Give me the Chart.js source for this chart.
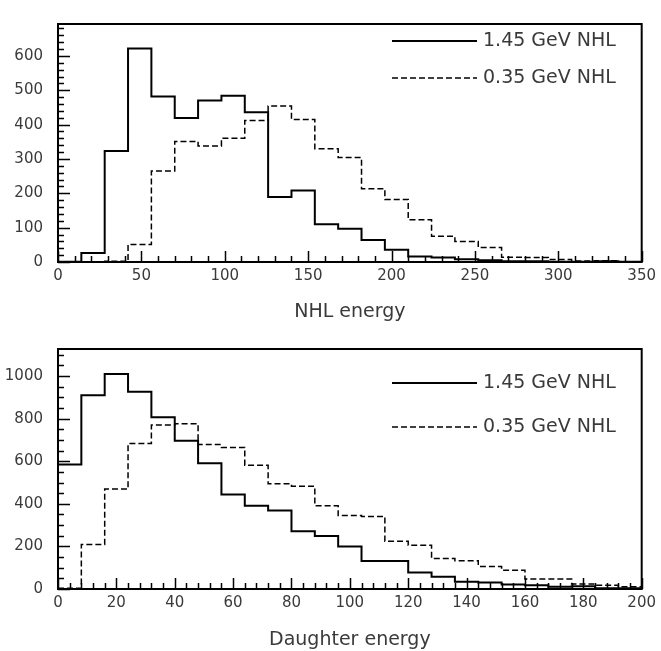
<!DOCTYPE html>
<html>
<head>
<meta charset="utf-8">
<script src="https://cdn.jsdelivr.net/npm/chart.js@4.4.1/dist/chart.umd.min.js"></script>
<style>
  html, body { margin: 0; padding: 0; background: #fff; }
  .box { position: absolute; left: 0; width: 661px; }
  #topBox { top: 0; height: 325px; }
  #botBox { top: 325px; height: 326px; }
</style>
</head>
<body>
<div class="box" id="topBox"><canvas id="nhlChart"></canvas></div>
<div class="box" id="botBox"><canvas id="daughterChart"></canvas></div>
<script>
// bin edges and contents
const nhlEdges = [0, 14, 28, 42, 56, 70, 84, 98, 112, 126, 140, 154, 168, 182,
                  196, 210, 224, 238, 252, 266, 280, 294, 308, 322, 336, 350];
const nhlHeavy = [1, 26, 323, 622, 482, 419, 470, 484, 436, 189, 208, 110, 97,
                  64, 36, 16, 13, 8, 5, 2, 2, 1, 1, 2, 1];
const nhlLight = [0, 0, 2, 51, 265, 351, 338, 360, 412, 454, 415, 330, 304,
                  213, 182, 123, 75, 60, 42, 14, 13, 7, 3, 4, 1];
const nhlXTicks = [0, 50, 100, 150, 200, 250, 300, 350];
const nhlYTicks = [0, 100, 200, 300, 400, 500, 600];

const dauEdges = [0, 8, 16, 24, 32, 40, 48, 56, 64, 72, 80, 88, 96, 104,
                  112, 120, 128, 136, 144, 152, 160, 168, 176, 184, 192, 200];
const dauHeavy = [585, 910, 1010, 926, 807, 696, 590, 444, 391, 369, 271, 249, 200,
                  131, 131, 78, 58, 34, 30, 21, 18, 10, 13, 4, 3];
const dauLight = [4, 209, 469, 683, 770, 776, 678, 665, 581, 494, 482, 391, 345,
                  341, 224, 206, 143, 133, 106, 88, 47, 47, 24, 18, 10];
const dauXTicks = [0, 20, 40, 60, 80, 100, 120, 140, 160, 180, 200];
const dauYTicks = [0, 200, 400, 600, 800, 1000];

const seriesNames = ['1.45 GeV NHL', '0.35 GeV NHL'];
const textColor = '#3a3a3a';
const fontFamily = "'DejaVu Sans', 'Liberation Sans', sans-serif";

// histogram -> step points (left edge of each bin, plus the closing edge)
function steps(edges, vals) {
  const pts = vals.map((v, i) => ({x: edges[i], y: v}));
  pts.push({x: edges[edges.length - 1], y: vals[vals.length - 1]});
  return pts;
}

// PAW style frame, inward ticks and the little legend
const pawFrame = {
  id: 'pawFrame',
  afterDatasetsDraw(chart, args, opts) {
    const {ctx, chartArea: a} = chart;
    const xs = chart.scales.x, ys = chart.scales.y;
    ctx.save();
    ctx.strokeStyle = '#000';
    ctx.lineWidth = 1.5;
    ctx.beginPath();
    for (let v = xs.min; v <= xs.max + 1e-6; v += opts.xMinor) {
      const px = Math.round(xs.getPixelForValue(v)) + 0.5;
      const major = opts.xTicks.some(t => Math.abs(t - v) < 1e-6);
      ctx.moveTo(px, a.bottom);
      ctx.lineTo(px, a.bottom - (major ? 11 : 6));
    }
    for (let v = ys.min; v <= ys.max + 1e-6; v += opts.yMinor) {
      const py = Math.round(ys.getPixelForValue(v)) + 0.5;
      const major = opts.yTicks.some(t => Math.abs(t - v) < 1e-6);
      ctx.moveTo(a.left, py);
      ctx.lineTo(a.left + (major ? 12 : 6), py);
    }
    ctx.stroke();
    ctx.lineWidth = 2;
    ctx.strokeRect(a.left, a.top, a.right - a.left, a.bottom - a.top);

    ctx.font = '19px ' + fontFamily;
    ctx.fillStyle = textColor;
    ctx.textBaseline = 'middle';
    chart.data.datasets.forEach((ds, i) => {
      const y = opts.legendRows[i];
      ctx.beginPath();
      ctx.lineWidth = ds.borderWidth;
      ctx.setLineDash(ds.borderDash || []);
      ctx.moveTo(opts.legendX[0], y);
      ctx.lineTo(opts.legendX[1], y);
      ctx.stroke();
      ctx.fillText(ds.label, opts.legendX[2], y);
    });
    ctx.restore();
  }
};

function makeChart(id, edges, heavy, light, xTicks, yTicks, cfg) {
  return new Chart(document.getElementById(id), {
    type: 'line',
    data: {
      datasets: [{
        label: seriesNames[0],
        data: steps(edges, heavy),
        borderColor: '#000',
        borderWidth: 2,
        stepped: 'before',
        pointRadius: 0,
        fill: false
      }, {
        label: seriesNames[1],
        data: steps(edges, light),
        borderColor: '#000',
        borderWidth: 1.5,
        borderDash: [6, 3],
        stepped: 'before',
        pointRadius: 0,
        fill: false
      }]
    },
    options: {
      responsive: true,
      maintainAspectRatio: false,
      animation: false,
      layout: {padding: {left: 0, right: 18, top: cfg.padTop, bottom: 0}},
      plugins: {
        legend: {display: false},
        tooltip: {enabled: false},
        pawFrame: {
          xMinor: cfg.xMinor, yMinor: cfg.yMinor,
          xTicks: xTicks, yTicks: yTicks,
          legendX: [392, 477, 483],
          legendRows: cfg.legendRows
        }
      },
      scales: {
        x: {
          type: 'linear',
          min: xTicks[0],
          max: xTicks[xTicks.length - 1],
          afterFit: s => { s.height = cfg.xHeight; },
          afterBuildTicks: s => { s.ticks = xTicks.map(v => ({value: v})); },
          grid: {display: false, drawTicks: false},
          border: {display: false},
          ticks: {
            autoSkip: false, maxRotation: 0, padding: 5,
            color: textColor, font: {family: fontFamily, size: 15},
            callback: v => String(v)
          },
          title: {
            display: true, text: cfg.title, color: textColor,
            font: {family: fontFamily, size: 19},
            padding: {top: 0, bottom: cfg.titlePad}
          }
        },
        y: {
          min: 0,
          max: cfg.yMax,
          afterFit: s => { s.width = 58; },
          afterBuildTicks: s => { s.ticks = yTicks.map(v => ({value: v})); },
          grid: {display: false, drawTicks: false},
          border: {display: false},
          ticks: {
            padding: 15, color: textColor, font: {family: fontFamily, size: 15},
            callback: v => String(v)
          }
        }
      }
    },
    plugins: [pawFrame]
  });
}

makeChart('nhlChart', nhlEdges, nhlHeavy, nhlLight, nhlXTicks, nhlYTicks, {
  title: 'NHL energy', yMax: 693, padTop: 7, xHeight: 63, titlePad: 2,
  xMinor: 10, yMinor: 20, legendRows: [41, 78]
});
makeChart('daughterChart', dauEdges, dauHeavy, dauLight, dauXTicks, dauYTicks, {
  title: 'Daughter energy', yMax: 1127, padTop: 9, xHeight: 62, titlePad: 0,
  xMinor: 4, yMinor: 50, legendRows: [58, 102]
});
</script>
</body>
</html>
